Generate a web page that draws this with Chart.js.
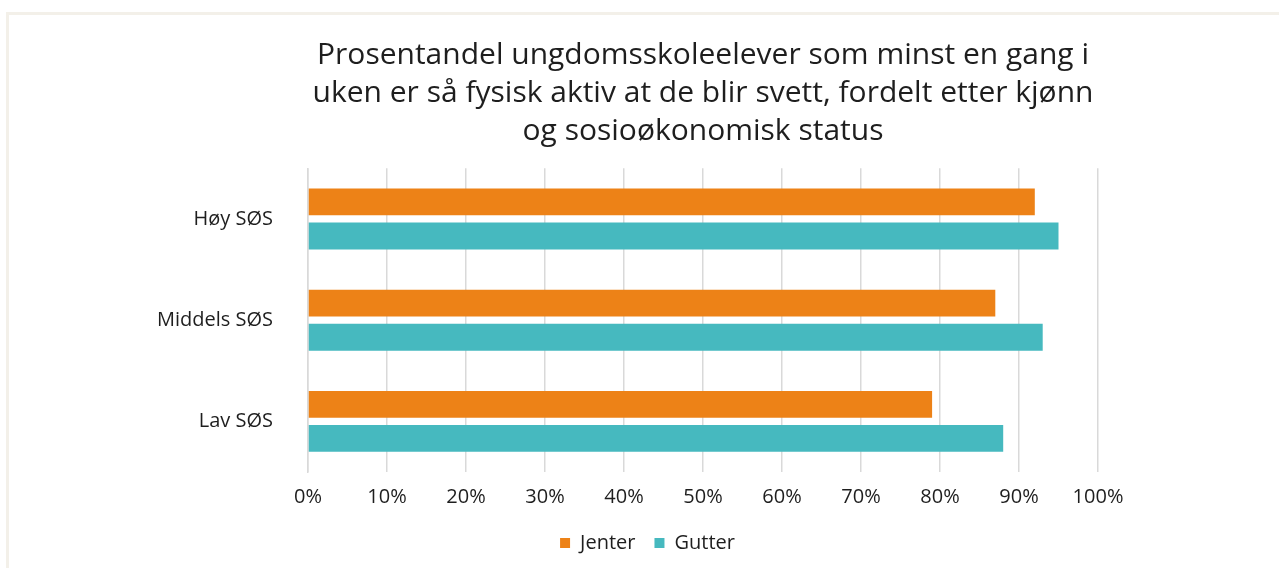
<!DOCTYPE html>
<html lang="no">
<head>
    <meta charset="UTF-8">
    <title>Fysisk aktivitet etter kjønn og SØS</title>
    <style>
        body {
            margin: 0;
            background-color: #ffffff;
            overflow: hidden;
        }
        .frame {
            position: absolute;
            left: 6px;
            top: 12px;
            width: 1290px;
            height: 600px;
            border: 3px solid #f3f0e9;
        }
        canvas {
            position: absolute;
            left: 0;
            top: 0;
        }
    </style>
    <script src="https://cdn.jsdelivr.net/npm/chart.js"></script>
</head>
<body>
    <div class="frame"></div>
    <canvas id="sosChart" width="1279" height="568"></canvas>
    <script>
        const groups = ['Høy SØS', 'Middels SØS', 'Lav SØS'];
        const jenter = [92, 87, 79];
        const gutter = [95, 93, 88];
        const titleLines = [
            'Prosentandel ungdomsskoleelever som minst en gang i',
            'uken er så fysisk aktiv at de blir svett, fordelt etter kjønn',
            'og sosioøkonomisk status'
        ];

        const gridColor = '#d9d9d9';
        const textColor = '#1e1e1e';
        const family = '"Open Sans", "Noto Sans", sans-serif';

        const ctx = document.getElementById('sosChart').getContext('2d');
        new Chart(ctx, {
            type: 'bar',
            data: {
                labels: groups,
                datasets: [
                    {
                        label: 'Jenter',
                        data: jenter,
                        backgroundColor: '#ed8217'
                    },
                    {
                        label: 'Gutter',
                        data: gutter,
                        backgroundColor: '#46b9bf'
                    }
                ]
            },
            options: {
                indexAxis: 'y',
                responsive: false,
                animation: false,
                categoryPercentage: 0.673,
                barPercentage: 0.79,
                layout: {
                    padding: { top: 36, right: 0, bottom: 5, left: 16 }
                },
                scales: {
                    x: {
                        min: 0,
                        max: 100,
                        ticks: {
                            stepSize: 10,
                            padding: 13,
                            color: textColor,
                            font: { family: family, size: 20 },
                            callback: v => v + '%'
                        },
                        grid: {
                            color: gridColor,
                            lineWidth: 1.5,
                            drawTicks: false
                        },
                        border: { display: false },
                        afterFit: scale => { scale.height = 42; }
                    },
                    y: {
                        ticks: {
                            padding: 35,
                            color: textColor,
                            font: { family: family, size: 20 }
                        },
                        grid: { display: false, drawTicks: false },
                        border: { display: true, color: gridColor, width: 1.5 },
                        afterFit: scale => { scale.width = 292; }
                    },
                    // empty strip on the right so the plot stops at 100%
                    rightGap: {
                        type: 'linear',
                        axis: 'y',
                        position: 'right',
                        ticks: { display: false },
                        grid: { display: false, drawTicks: false },
                        border: { display: false },
                        afterFit: scale => { scale.width = 181; }
                    }
                },
                plugins: {
                    title: {
                        display: true,
                        fullSize: false,
                        text: titleLines,
                        color: textColor,
                        font: { family: family, size: 30, weight: 'normal', lineHeight: 1.27 },
                        padding: { top: 0, bottom: 18 }
                    },
                    legend: {
                        position: 'bottom',
                        labels: {
                            boxWidth: 10,
                            boxHeight: 10,
                            padding: 19,
                            color: textColor,
                            font: { family: family, size: 20 }
                        }
                    },
                    tooltip: { enabled: false }
                }
            }
        });
    </script>
</body>
</html>
